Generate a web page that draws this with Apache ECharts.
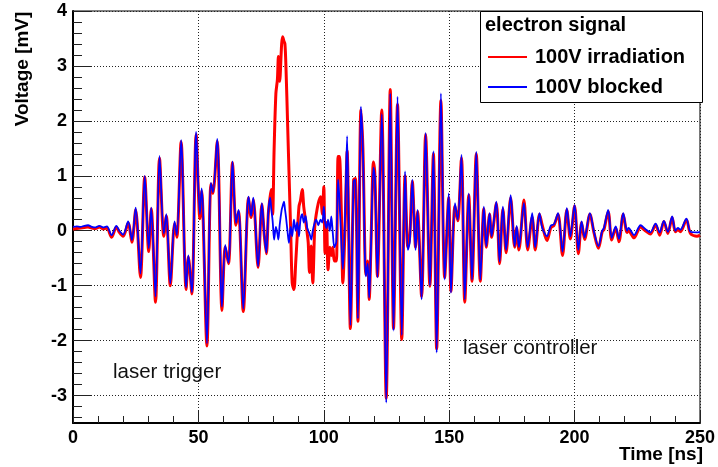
<!DOCTYPE html>
<html>
<head>
<meta charset="utf-8">
<script src="https://cdn.jsdelivr.net/npm/echarts@6/dist/echarts.min.js"></script>
<style>
  html, body { margin: 0; padding: 0; background: #fff; }
  #chart { width: 718px; height: 467px; }
</style>
</head>
<body>
<div id="chart"></div>
<script>
// Sample times [ns] shared by both waveforms
const timeNs = [
  0, 1.5, 3, 4.5, 6, 7.5, 9, 10.5, 12, 13.5, 15.4, 17.3, 18.5, 20, 22, 23.5, 25, 26.9, 28.6, 30.2,
  31.2, 32.9, 34.5, 36.2, 37.2, 38.8, 40.5, 41.4, 43.1, 45.1, 46, 47.4, 49.1, 50.6, 51.3, 53.4, 55, 55.8, 57.5, 59.4,
  60.7, 62, 63.6, 65, 66, 67.9, 70, 71, 71.9, 73.8, 75.3, 76.3, 77.1, 77.9, 78.6, 79.1, 79.6, 80.2, 80.9, 81.5,
  81.9, 82.4, 83.2, 83.6, 84.1, 84.5, 84.9, 85.6, 86.1, 86.8, 87.4, 88.1, 88.8, 89.4, 90.1, 90.7, 91.4, 92, 92.7, 93.4,
  93.8, 94.3, 95, 95.6, 96.4, 97, 97.8, 98.7, 99.4, 100, 100.5, 101.1, 101.7, 102.4, 103, 103.6, 104.2, 105, 105.7, 106.2,
  107, 107.6, 108.5, 109.3, 110.6, 111.9, 112.6, 113.6, 114.8, 115.6, 116.8, 117.5, 118.1, 118.8, 119.8, 120.4, 121.4, 123.1, 124.9, 126.5,
  127.8, 129.4, 131.1, 132.4, 133.5, 134.3, 135.3, 136.6, 137.4, 139, 140.6, 142.3, 143.7, 145, 146.7, 148.2, 149.8, 150.7, 152.3, 153.4,
  154.9, 156.2, 157.8, 159.1, 160.8, 162.4, 163.8, 164.8, 166.1, 166.9, 168.8, 170.1, 171.4, 172.7, 174.5, 176.1, 176.9, 177.8, 179.8, 181.3,
  183.1, 184.3, 186, 187.1, 189, 190.5, 191.8, 193.4, 195.2, 196.9, 198.3, 200, 201.5, 202.8, 204, 206.1, 207.8, 209.5, 211, 211.7,
  213.4, 214.8, 216.4, 217.7, 219.4, 220.9, 221.5, 223.7, 226.3, 228.2, 230.2, 232.3, 233.9, 235.6, 237.2, 238.9, 240.2, 241.2, 242.2, 244.6,
  246.2, 248.8, 250
];

// Electron signal with the laser path blocked [mV]
const blocked = [
  0.07, 0.08, 0.07, 0.09, 0.1, 0.07, 0.06, 0.09, 0.06, 0.08, -0.08, 0.09, 0.0, -0.07, 0.17, -0.17, 0.42, -0.78, 1.0, -0.32,
  0.42, -1.2, 1.36, -0.05, 0.3, -0.96, 0.17, -0.08, 1.65, -1.03, -0.45, -1.12, 1.8, 0.3, 0.77, -2.05, 0.87, 0.7, 1.67, -1.38,
  -0.26, -0.58, 1.26, 0.14, 0.38, -1.42, 0.62, 0.27, 0.6, -0.65, 0.5, -0.08, -0.4, 0.35, 0.6, 0.38, 0.18, -0.16, 0.07, -0.05,
  -0.16, 0.1, 0.38, 0.45, 0.53, 0.4, 0.26, -0.04, -0.22, 0.07, -0.1, 0.2, 0.0, 0.15, -0.1, 0.2, 0.3, 0.15, 0.27, 0.05,
  0.0, -0.05, -0.16, 0.0, 0.15, 0.2, 0.1, 0.2, 0.15, 0.44, 0.15, 0.05, 0.2, 0.0, 0.26, -0.05, -0.3, -0.2, 0.93, 0.6,
  -0.2, -0.7, 0.3, 1.72, -1.72, 0.9, 0.93, -1.6, 2.26, 1.45, -0.83, -0.6, -1.22, -0.3, 1.15, 0.95, -0.85, 2.12, -3.13, 2.5,
  -1.82, 2.44, -1.9, 1.08, -0.35, -0.2, 0.93, -0.35, 0.38, -1.25, 1.78, -1.0, 1.45, -2.22, 2.5, -0.89, 0.68, -1.13, 0.5, 0.2,
  1.38, -1.25, 0.68, -0.89, 1.44, -0.89, 0.44, -0.28, 0.32, -0.1, 0.53, -0.56, 0.44, -0.35, 0.65, -0.28, 0.09, -0.3, 0.5, -0.3,
  0.32, -0.3, 0.32, 0.05, -0.1, 0.09, 0.12, 0.32, -0.38, 0.41, -0.1, 0.47, -0.35, 0.17, -0.12, 0.32, -0.03, -0.28, 0.0, 0.05,
  0.38, -0.13, 0.08, -0.15, 0.32, 0.0, 0.05, -0.08, 0.1, 0.03, -0.03, 0.13, -0.03, 0.18, -0.02, 0.26, 0.0, 0.05, 0.02, 0.22,
  -0.02, -0.03, -0.02
];

// Electron signal with irradiation [mV]
const irradiation = [
  0.03, 0.04, 0.05, 0.06, 0.07, 0.05, 0.04, 0.07, 0.03, 0.05, -0.12, 0.07, -0.03, -0.1, 0.14, -0.21, 0.38, -0.85, 0.98, -0.38,
  0.4, -1.3, 1.32, -0.1, 0.27, -1.0, 0.13, -0.12, 1.62, -1.07, -0.48, -1.15, 1.75, 0.22, 0.72, -2.1, 0.85, 0.68, 1.63, -1.45,
  -0.3, -0.6, 1.24, 0.1, 0.35, -1.47, 0.6, 0.24, 0.57, -0.67, 0.48, -0.1, -0.42, 0.32, 0.62, 0.75, 0.3, 1.5, 2.5, 2.75,
  3.17, 2.72, 3.4, 3.53, 3.45, 3.4, 3.0, 1.9, 1.1, 0.0, -0.95, -1.07, -0.58, -0.1, 0.44, 0.55, 0.75, 0.44, 0.2, -0.05,
  -0.22, -0.76, -0.28, -0.95, 0.08, 0.3, 0.5, 0.62, 0.3, 0.8, -0.41, 0.15, -0.71, -0.3, -0.45, -0.3, -0.55, -0.55, 1.35, 1.35,
  0.35, -0.95, 0.1, 1.45, -1.78, 0.93, 0.95, -1.65, 2.2, 1.5, -0.8, -0.55, -1.25, -0.28, 1.25, 0.98, -0.83, 2.2, -3.05, 2.57,
  -1.78, 2.3, -1.98, 1.0, -0.3, -0.1, 0.9, -0.3, 0.35, -1.2, 1.75, -1.01, 1.4, -2.15, 2.37, -0.85, 0.6, -1.1, 0.45, 0.18,
  1.33, -1.3, 0.65, -0.92, 1.4, -0.92, 0.4, -0.3, 0.3, -0.12, 0.5, -0.6, 0.4, -0.4, 0.6, -0.3, 0.05, -0.35, 0.56, -0.35,
  0.25, -0.35, 0.3, 0.1, -0.18, 0.05, 0.1, 0.3, -0.45, 0.38, -0.15, 0.45, -0.42, 0.15, -0.16, 0.3, -0.05, -0.32, -0.02, 0.02,
  0.35, -0.17, 0.05, -0.2, 0.3, -0.03, 0.0, -0.13, 0.07, 0.0, -0.06, 0.11, -0.08, 0.17, -0.05, 0.24, -0.02, 0.02, -0.02, 0.2,
  -0.05, -0.1, -0.08
];

// Axis ticks
const timeTicks = [0, 50, 100, 150, 200, 250];
const voltageTicks = [-3, -2, -1, 0, 1, 2, 3, 4];
const voltageMinorTicks = [];
for (let k = -17; k <= 20; k++) {
  if (k % 5 !== 0) voltageMinorTicks.push(k / 5);
}

const FONT = '"Liberation Sans", Arial, Helvetica, sans-serif';

const pairs = (vals) => timeNs.map((t, i) => [t, vals[i]]);

const chart = echarts.init(document.getElementById('chart'), null, { renderer: 'canvas' });

chart.setOption({
  animation: false,
  backgroundColor: '#fff',
  grid: {
    left: 73, right: 15, top: 11, bottom: 44,
    show: true, borderColor: '#000', borderWidth: 1, backgroundColor: 'transparent'
  },
  xAxis: {
    type: 'value',
    min: timeTicks[0],
    max: timeTicks[timeTicks.length - 1],
    interval: 50,
    axisLine: { show: true, onZero: false, lineStyle: { color: '#000', width: 2 } },
    axisTick: { show: true, inside: true, length: 13, lineStyle: { color: '#222', width: 1 } },
    minorTick: { show: true, splitNumber: 5, length: 7, lineStyle: { color: '#222', width: 1 } },
    axisLabel: {
      margin: 6, color: '#000', fontFamily: FONT, fontWeight: 'bold', fontSize: 18,
      formatter: (v) => String(v)
    },
    splitLine: { show: true, lineStyle: { color: '#222', width: 1, type: [1, 2] } }
  },
  yAxis: [
    {
      type: 'value',
      position: 'left',
      min: -3.5,
      max: 4,
      axisLine: { show: true, onZero: false, lineStyle: { color: '#000', width: 2 } },
      axisTick: { show: true, inside: true, length: 18, customValues: voltageTicks, lineStyle: { color: '#222', width: 1 } },
      axisLabel: {
        margin: 6, color: '#000', fontFamily: FONT, fontWeight: 'bold', fontSize: 18,
        customValues: voltageTicks, formatter: (v) => String(v)
      },
      splitLine: { show: true, lineStyle: { color: '#222', width: 1, type: [1, 2] } }
    },
    {
      type: 'value',
      position: 'left',
      min: -3.5,
      max: 4,
      axisLine: { show: false },
      axisTick: { show: true, inside: true, length: 9, customValues: voltageMinorTicks, lineStyle: { color: '#222', width: 1 } },
      axisLabel: { show: false },
      splitLine: { show: false }
    }
  ],
  legend: {
    orient: 'vertical',
    left: 488,
    top: 47,
    padding: 0,
    itemGap: 10,
    itemWidth: 39,
    itemHeight: 2,
    icon: 'rect',
    z: 12,
    selectedMode: false,
    textStyle: {
      color: '#000', fontFamily: FONT, fontWeight: 'bold', fontSize: 20, lineHeight: 20,
      padding: [0, 0, 0, 3]
    },
    data: ['100V irradiation', '100V blocked']
  },
  graphic: [
    {
      type: 'rect', z: 10,
      shape: { x: 480.5, y: 11.5, width: 222, height: 91 },
      style: { fill: '#fff', stroke: '#000', lineWidth: 1 }
    },
    {
      type: 'text', z: 11, left: 485, top: 15,
      style: { text: 'electron signal', fill: '#000', font: 'bold 20px ' + FONT }
    },
    {
      type: 'text', z: 11,
      x: 23, y: 69, rotation: Math.PI / 2,
      style: {
        text: 'Voltage [mV]', fill: '#000', font: 'bold 19px ' + FONT,
        textAlign: 'center', textVerticalAlign: 'middle'
      }
    },
    {
      type: 'text', z: 11,
      x: 703, y: 455,
      style: {
        text: 'Time [ns]', fill: '#000', font: 'bold 19px ' + FONT,
        textAlign: 'right', textVerticalAlign: 'middle'
      }
    },
    {
      type: 'text', z: 11,
      x: 113, y: 372,
      style: {
        text: 'laser trigger', fill: '#111', font: '20.5px ' + FONT,
        textAlign: 'left', textVerticalAlign: 'middle'
      }
    },
    {
      type: 'text', z: 11,
      x: 463, y: 348,
      style: {
        text: 'laser controller', fill: '#111', font: '20.5px ' + FONT,
        textAlign: 'left', textVerticalAlign: 'middle'
      }
    }
  ],
  series: [
    {
      name: '100V irradiation',
      type: 'line',
      data: pairs(irradiation),
      showSymbol: false,
      symbol: 'none',
      smooth: 0.3,
      color: '#ff0000',
      lineStyle: { color: '#ff0000', width: 3 },
      z: 2
    },
    {
      name: '100V blocked',
      type: 'line',
      data: pairs(blocked),
      showSymbol: false,
      symbol: 'none',
      smooth: 0.3,
      color: '#0000ff',
      lineStyle: { color: '#0000ff', width: 1.8 },
      z: 3
    }
  ]
});
</script>
</body>
</html>
